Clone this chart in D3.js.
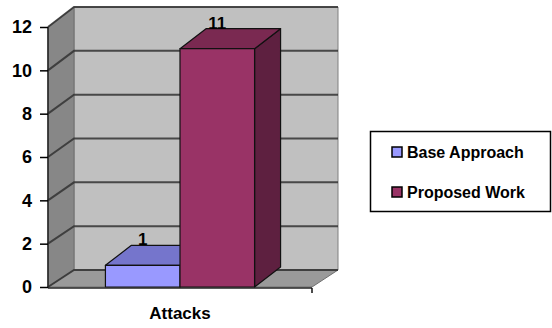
<!DOCTYPE html>
<html>
<head>
<meta charset="utf-8" />
<title>Attacks</title>
<script src="https://cdnjs.cloudflare.com/ajax/libs/d3/7.8.5/d3.min.js"></script>
<style>
  body { margin: 0; padding: 0; background: #fff; }
  svg { display: block; font-family: "Liberation Sans", Arial, sans-serif; font-weight: bold; }
</style>
</head>
<body>
<div id="chart"></div>
<script>
// data
var categories = ["Attacks"];
var series = ["Base Approach", "Proposed Work"];
var values = [1, 11];
var yTicks = [0, 2, 4, 6, 8, 10, 12];

var W = 552, H = 328;
var svg = d3.select("#chart").append("svg").attr("width", W).attr("height", H);

// front plane and back plane scales (fake 3d)
var yFront = d3.scaleLinear().domain([0, 12]).range([287, 27]);
var yBack = d3.scaleLinear().domain([0, 12]).range([270, 7]);
var x = d3.scaleBand().domain(categories).range([48, 312]);
var xs = d3.scaleBand().domain(series).range([0, x.bandwidth()]).paddingInner(0).paddingOuter(0.77);
var dx = 26, dy = -20;
var backL = 74, backR = 338;

var colors = {
  "Base Approach": { front: "#9999ff", top: "#7575cc", side: "#6b6bb3" },
  "Proposed Work": { front: "#993366", top: "#7a2951", side: "#5e2040" }
};

// walls
svg.append("polygon")
  .attr("points", [[backL, yBack(12)], [backR, yBack(12)], [backR, yBack(0)], [backL, yBack(0)]].join(" "))
  .attr("fill", "#c0c0c0").attr("stroke", "#808080").attr("stroke-width", 1);
svg.append("polygon")
  .attr("points", [[48, yFront(12)], [backL, yBack(12)], [backL, yBack(0)], [48, yFront(0)]].join(" "))
  .attr("fill", "#878787").attr("stroke", "#6e6e6e").attr("stroke-width", 1);
svg.append("polygon")
  .attr("points", [[48, yFront(0)], [backL, yBack(0)], [backR, yBack(0)], [312, yFront(0)]].join(" "))
  .attr("fill", "#9a9a9a").attr("stroke", "#707070").attr("stroke-width", 1);

// gridlines
yTicks.forEach(function(t) {
  svg.append("polyline")
    .attr("points", [[48, yFront(t)], [backL, yBack(t)], [backR, yBack(t)]].join(" "))
    .attr("fill", "none").attr("stroke", "#333").attr("stroke-width", 2).attr("opacity", 0.85);
});

// bars
series.forEach(function(s, i) {
  var v = values[i];
  var x0 = x(categories[0]) + xs(s), x1 = x0 + xs.bandwidth();
  var yt = yFront(v), yb = yFront(0);
  var c = colors[s];
  var g = svg.append("g").attr("stroke", "#111").attr("stroke-width", 1.2).attr("stroke-linejoin", "round");
  g.append("polygon").attr("points", [[x1, yt], [x1 + dx, yt + dy], [x1 + dx, yb + dy], [x1, yb]].join(" ")).attr("fill", c.side);
  g.append("polygon").attr("points", [[x0, yt], [x0 + dx, yt + dy], [x1 + dx, yt + dy], [x1, yt]].join(" ")).attr("fill", c.top);
  g.append("rect").attr("x", x0).attr("y", yt).attr("width", x1 - x0).attr("height", yb - yt).attr("fill", c.front);
  svg.append("text")
    .attr("x", (x0 + x1) / 2).attr("y", yt + dy)
    .attr("text-anchor", "middle").attr("font-size", 17).attr("fill", "#000")
    .text(v);
});

// axes
svg.append("line").attr("x1", 48).attr("x2", 48).attr("y1", yFront(12)).attr("y2", yFront(0) + 1)
  .attr("stroke", "#222").attr("stroke-width", 1.5);
svg.append("line").attr("x1", 48).attr("x2", 312).attr("y1", yFront(0) + 1).attr("y2", yFront(0) + 1)
  .attr("stroke", "#222").attr("stroke-width", 1.5);
svg.append("line").attr("x1", 312).attr("x2", 312).attr("y1", yFront(0) + 1).attr("y2", yFront(0) + 6)
  .attr("stroke", "#111").attr("stroke-width", 1.5);

var yAxis = d3.axisLeft(yFront).tickValues(yTicks).tickSize(8).tickPadding(8);
var ya = svg.append("g").attr("transform", "translate(48,0)").call(yAxis);
ya.select(".domain").remove();
ya.selectAll(".tick line").attr("stroke", "#000").attr("stroke-width", 1.5);
ya.selectAll(".tick text").attr("font-size", 18).attr("font-family", "Liberation Sans, Arial, sans-serif")
  .attr("font-weight", "bold").attr("fill", "#000");

svg.append("text").attr("x", x(categories[0]) + x.bandwidth() / 2).attr("y", 319)
  .attr("text-anchor", "middle").attr("font-size", 17).text(categories[0]);

// legend
var lg = svg.append("g");
lg.append("rect").attr("x", 370.5).attr("y", 131.5).attr("width", 180).attr("height", 80)
  .attr("fill", "#fff").attr("stroke", "#000").attr("stroke-width", 1.5);
series.forEach(function(s, i) {
  var cy = 152 + i * 40;
  lg.append("rect").attr("x", 392).attr("y", cy - 5).attr("width", 10).attr("height", 10)
    .attr("fill", colors[s].front).attr("stroke", "#000").attr("stroke-width", 1.5);
  lg.append("text").attr("x", 407).attr("y", cy + 6).attr("font-size", 16).text(s);
});
</script>
</body>
</html>
